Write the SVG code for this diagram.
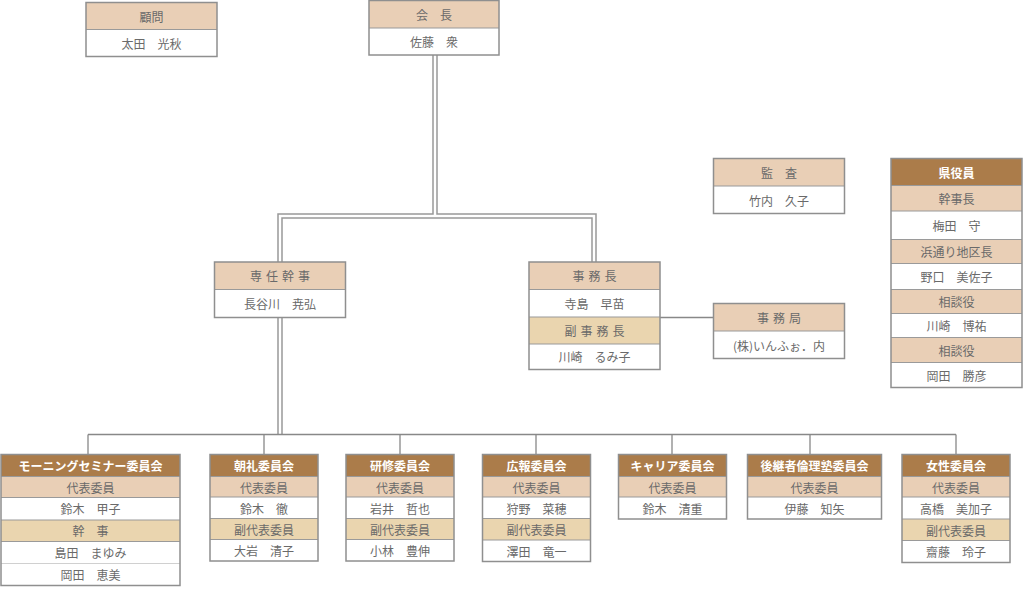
<svg xmlns="http://www.w3.org/2000/svg" width="1023" height="606" viewBox="0 0 1023 606">
<style>
.bg{fill:#fff}
.pk{fill:#E9CFB6}
.ye{fill:#EAD5AF}
.dk{fill:#AB7C4A}
.wh{fill:#fff}
.bx{fill:none;stroke:#8f8f8f;stroke-width:1.5}
.sep{stroke:#9a9a9a;stroke-width:1.2}
.t{font-family:"Noto Sans CJK JP","Noto Sans CJK SC",sans-serif;font-size:12px;fill:#6a6a6a;text-anchor:middle;dominant-baseline:central}
.ts{letter-spacing:4px}
.tw{fill:#fff;font-weight:bold}
.cn{fill:none;stroke:#999;stroke-width:1.5}
.cs{fill:none;stroke:#888;stroke-width:1.3}
</style>
<rect class="bg" x="0" y="0" width="1023" height="606"/>

<g id="connectors">
  <path class="cn" d="M433,55 V214 H278 V262"/>
  <path class="cn" d="M437,55 V214 H596 V262"/>
  <path class="cn" d="M282,262 V218 H592 V262"/>
  <path class="cn" d="M278,317 V434"/>
  <path class="cn" d="M282,317 V434"/>
  <path class="cs" d="M660,317.5 H713"/>
  <path class="cs" d="M88,434.5 H956"/>
  <path class="cs" d="M88,434.5 V454.5 M264,434.5 V454.5 M400,434.5 V454.5 M536,434.5 V454.5 M672,434.5 V454.5 M810,434.5 V454.5 M956,434.5 V454.5"/>
</g>

<g id="komon">
  <rect class="pk" x="86" y="2.5" width="131" height="27"/>
  <rect class="wh" x="86" y="29.5" width="131" height="27"/>
  <line class="sep" x1="86" y1="29.5" x2="217" y2="29.5"/>
  <rect class="bx" x="86" y="2.5" width="131" height="54"/>
  <text class="t" x="151.5" y="16">顧問</text>
  <text class="t" x="151.5" y="43">太田　光秋</text>
</g>

<g id="kaicho">
  <rect class="pk" x="369" y="0.5" width="130" height="27.5"/>
  <rect class="wh" x="369" y="28" width="130" height="27"/>
  <line class="sep" x1="369" y1="28" x2="499" y2="28"/>
  <rect class="bx" x="369" y="0.5" width="130" height="54.5"/>
  <text class="t" x="434" y="14">会　長</text>
  <text class="t" x="434" y="41.5">佐藤　衆</text>
</g>

<g id="kansa">
  <rect class="pk" x="713.5" y="158.5" width="131" height="27.5"/>
  <rect class="wh" x="713.5" y="186" width="131" height="27.5"/>
  <line class="sep" x1="713.5" y1="186" x2="844.5" y2="186"/>
  <rect class="bx" x="713.5" y="158.5" width="131" height="55"/>
  <text class="t" x="779" y="172">監　査</text>
  <text class="t" x="779" y="200">竹内　久子</text>
</g>

<g id="sennin">
  <rect class="pk" x="214.5" y="262" width="131" height="27.5"/>
  <rect class="wh" x="214.5" y="289.5" width="131" height="28"/>
  <line class="sep" x1="214.5" y1="289.5" x2="345.5" y2="289.5"/>
  <rect class="bx" x="214.5" y="262" width="131" height="55.5"/>
  <text class="t ts" x="282" y="275.5">専任幹事</text>
  <text class="t" x="280" y="303.5">長谷川　尭弘</text>
</g>

<g id="jimucho">
  <rect class="pk" x="529" y="262" width="131" height="27.5"/>
  <rect class="wh" x="529" y="289.5" width="131" height="27.5"/>
  <rect class="ye" x="529" y="317" width="131" height="27"/>
  <rect class="wh" x="529" y="344" width="131" height="25.5"/>
  <line class="sep" x1="529" y1="289.5" x2="660" y2="289.5"/>
  <line class="sep" x1="529" y1="317" x2="660" y2="317"/>
  <line class="sep" x1="529" y1="344" x2="660" y2="344"/>
  <rect class="bx" x="529" y="262" width="131" height="107.5"/>
  <text class="t ts" x="596.5" y="275.5">事務長</text>
  <text class="t" x="594.5" y="303">寺島　早苗</text>
  <text class="t ts" x="596.5" y="330.5">副事務長</text>
  <text class="t" x="594.5" y="356.5">川崎　るみ子</text>
</g>

<g id="jimukyoku">
  <rect class="pk" x="713.5" y="303.5" width="131" height="27.5"/>
  <rect class="wh" x="713.5" y="331" width="131" height="27.5"/>
  <line class="sep" x1="713.5" y1="331" x2="844.5" y2="331"/>
  <rect class="bx" x="713.5" y="303.5" width="131" height="55"/>
  <text class="t ts" x="781" y="317">事務局</text>
  <text class="t" x="779" y="345">(株)いんふぉ．内</text>
</g>

<g id="kenyakuin">
  <rect class="dk" x="891" y="158.5" width="131" height="27"/>
  <rect class="pk" x="891" y="185.5" width="131" height="25.5"/>
  <rect class="wh" x="891" y="211" width="131" height="28.5"/>
  <rect class="pk" x="891" y="239.5" width="131" height="24"/>
  <rect class="wh" x="891" y="263.5" width="131" height="26"/>
  <rect class="pk" x="891" y="289.5" width="131" height="24"/>
  <rect class="wh" x="891" y="313.5" width="131" height="24"/>
  <rect class="pk" x="891" y="337.5" width="131" height="25"/>
  <rect class="wh" x="891" y="362.5" width="131" height="25"/>
  <path class="sep" d="M891,185.5 H1022 M891,211 H1022 M891,239.5 H1022 M891,263.5 H1022 M891,289.5 H1022 M891,313.5 H1022 M891,337.5 H1022 M891,362.5 H1022"/>
  <rect class="bx" x="891" y="158.5" width="131" height="229"/>
  <text class="t tw" x="956.5" y="172">県役員</text>
  <text class="t" x="956.5" y="198.5">幹事長</text>
  <text class="t" x="956.5" y="225.5">梅田　守</text>
  <text class="t" x="956.5" y="251.5">浜通り地区長</text>
  <text class="t" x="956.5" y="276.5">野口　美佐子</text>
  <text class="t" x="956.5" y="301.5">相談役</text>
  <text class="t" x="956.5" y="325.5">川崎　博祐</text>
  <text class="t" x="956.5" y="350">相談役</text>
  <text class="t" x="956.5" y="375">岡田　勝彦</text>
</g>

<g id="morning">
  <rect class="dk" x="1" y="454.5" width="179" height="22"/>
  <rect class="pk" x="1" y="476.5" width="179" height="21"/>
  <rect class="wh" x="1" y="497.5" width="179" height="22.5"/>
  <rect class="ye" x="1" y="520" width="179" height="21.5"/>
  <rect class="wh" x="1" y="541.5" width="179" height="44"/>
  <path class="sep" d="M1,476.5 H180 M1,497.5 H180 M1,520 H180 M1,541.5 H180"/>
  <path d="M1,563.5 H180" stroke="#d0d0d0" stroke-width="1.2"/>
  <rect class="bx" x="1" y="454.5" width="179" height="131"/>
  <text class="t tw" x="90.5" y="465.5">モーニングセミナー委員会</text>
  <text class="t" x="90.5" y="487">代表委員</text>
  <text class="t" x="90.5" y="508.5">鈴木　甲子</text>
  <text class="t" x="90.5" y="530.5">幹　事</text>
  <text class="t" x="90.5" y="552.5">島田　まゆみ</text>
  <text class="t" x="90.5" y="574.5">岡田　恵美</text>
</g>

<g id="chorei">
  <rect class="dk" x="210" y="454.5" width="108" height="22"/>
  <rect class="pk" x="210" y="476.5" width="108" height="20.5"/>
  <rect class="wh" x="210" y="497" width="108" height="21.5"/>
  <rect class="ye" x="210" y="518.5" width="108" height="21"/>
  <rect class="wh" x="210" y="539.5" width="108" height="21.5"/>
  <path class="sep" d="M210,476.5 H318 M210,497 H318 M210,518.5 H318 M210,539.5 H318"/>
  <rect class="bx" x="210" y="454.5" width="108" height="106.5"/>
  <text class="t tw" x="264" y="465.5">朝礼委員会</text>
  <text class="t" x="264" y="487">代表委員</text>
  <text class="t" x="264" y="508">鈴木　徹</text>
  <text class="t" x="264" y="529">副代表委員</text>
  <text class="t" x="264" y="550.5">大岩　清子</text>
</g>

<g id="kenshu">
  <rect class="dk" x="346" y="454.5" width="108" height="22"/>
  <rect class="pk" x="346" y="476.5" width="108" height="20.5"/>
  <rect class="wh" x="346" y="497" width="108" height="21.5"/>
  <rect class="ye" x="346" y="518.5" width="108" height="21"/>
  <rect class="wh" x="346" y="539.5" width="108" height="21.5"/>
  <path class="sep" d="M346,476.5 H454 M346,497 H454 M346,518.5 H454 M346,539.5 H454"/>
  <rect class="bx" x="346" y="454.5" width="108" height="106.5"/>
  <text class="t tw" x="400" y="465.5">研修委員会</text>
  <text class="t" x="400" y="487">代表委員</text>
  <text class="t" x="400" y="508">岩井　哲也</text>
  <text class="t" x="400" y="529">副代表委員</text>
  <text class="t" x="400" y="550.5">小林　豊伸</text>
</g>

<g id="koho">
  <rect class="dk" x="482.5" y="454.5" width="108" height="22"/>
  <rect class="pk" x="482.5" y="476.5" width="108" height="20.5"/>
  <rect class="wh" x="482.5" y="497" width="108" height="21.5"/>
  <rect class="ye" x="482.5" y="518.5" width="108" height="21.5"/>
  <rect class="wh" x="482.5" y="540" width="108" height="21.5"/>
  <path class="sep" d="M482.5,476.5 H590.5 M482.5,497 H590.5 M482.5,518.5 H590.5 M482.5,540 H590.5"/>
  <rect class="bx" x="482.5" y="454.5" width="108" height="107"/>
  <text class="t tw" x="536.5" y="465.5">広報委員会</text>
  <text class="t" x="536.5" y="487">代表委員</text>
  <text class="t" x="536.5" y="508">狩野　菜穂</text>
  <text class="t" x="536.5" y="529.5">副代表委員</text>
  <text class="t" x="536.5" y="551">澤田　竜一</text>
</g>

<g id="career">
  <rect class="dk" x="618.5" y="454.5" width="108" height="22"/>
  <rect class="pk" x="618.5" y="476.5" width="108" height="20.5"/>
  <rect class="wh" x="618.5" y="497" width="108" height="22"/>
  <path class="sep" d="M618.5,476.5 H726.5 M618.5,497 H726.5"/>
  <rect class="bx" x="618.5" y="454.5" width="108" height="64.5"/>
  <text class="t tw" x="672.5" y="465.5">キャリア委員会</text>
  <text class="t" x="672.5" y="487">代表委員</text>
  <text class="t" x="672.5" y="508">鈴木　清重</text>
</g>

<g id="kokeisha">
  <rect class="dk" x="747.5" y="454.5" width="134" height="22"/>
  <rect class="pk" x="747.5" y="476.5" width="134" height="20.5"/>
  <rect class="wh" x="747.5" y="497" width="134" height="22"/>
  <path class="sep" d="M747.5,476.5 H881.5 M747.5,497 H881.5"/>
  <rect class="bx" x="747.5" y="454.5" width="134" height="64.5"/>
  <text class="t tw" x="814.5" y="465.5">後継者倫理塾委員会</text>
  <text class="t" x="814.5" y="487">代表委員</text>
  <text class="t" x="814.5" y="508">伊藤　知矢</text>
</g>

<g id="josei">
  <rect class="dk" x="902" y="454.5" width="108" height="22"/>
  <rect class="pk" x="902" y="476.5" width="108" height="20.5"/>
  <rect class="wh" x="902" y="497" width="108" height="22"/>
  <rect class="ye" x="902" y="519" width="108" height="21.5"/>
  <rect class="wh" x="902" y="540.5" width="108" height="22"/>
  <path class="sep" d="M902,476.5 H1010 M902,497 H1010 M902,519 H1010 M902,540.5 H1010"/>
  <rect class="bx" x="902" y="454.5" width="108" height="108"/>
  <text class="t tw" x="956" y="465.5">女性委員会</text>
  <text class="t" x="956" y="487">代表委員</text>
  <text class="t" x="956" y="508">高橋　美加子</text>
  <text class="t" x="956" y="530">副代表委員</text>
  <text class="t" x="956" y="551.5">齋藤　玲子</text>
</g>
</svg>
